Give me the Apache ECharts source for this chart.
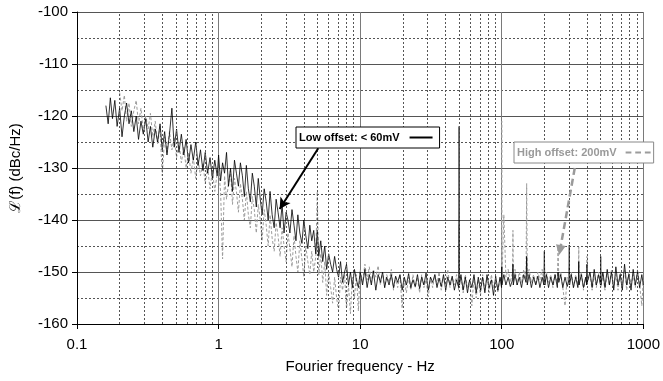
<!DOCTYPE html>
<html>
<head>
<meta charset="utf-8">
<script src="https://cdn.jsdelivr.net/npm/echarts@6/dist/echarts.min.js"></script>
<style>
html,body{margin:0;padding:0;background:#fff;}
#chart{width:663px;height:381px;}
</style>
</head>
<body>
<div id="chart"></div>
<script>
// Fourier frequency (Hz) sample points
var freqs = [
0.16,0.166,0.172,0.178,0.185,0.192,0.2,0.208,0.216,0.224,0.233,0.242,
0.252,0.262,0.272,0.283,0.294,0.306,0.318,0.33,0.343,0.357,0.371,0.386,
0.4,0.416,0.432,0.45,0.468,0.486,0.505,0.525,0.546,0.568,0.59,0.614,
0.638,0.663,0.69,0.717,0.745,0.775,0.805,0.837,0.87,0.905,0.94,0.978,
1,1.033,1.067,1.102,1.138,1.175,1.214,1.254,1.295,1.337,1.381,1.426,
1.473,1.521,1.571,1.623,1.676,1.731,1.788,1.847,1.907,1.97,2.03,2.1,
2.17,2.24,2.31,2.39,2.47,2.55,2.63,2.72,2.81,2.9,3,3.09,
3.19,3.3,3.41,3.52,3.63,3.75,3.88,4,4.13,4.27,4.41,4.55,
4.7,4.86,4.98,5.1,5.27,5.44,5.62,5.8,5.99,6.19,6.39,6.6,
6.82,7.04,7.27,7.51,7.76,8.01,8.27,8.54,8.82,9.11,9.41,9.72,
10,10.4,10.8,11.2,11.6,12,12.4,12.9,13.4,13.9,14.4,14.9,
15.4,16,16.6,17.2,17.8,18.4,19.1,19.8,20.5,21.2,22,22.8,
23.6,24.5,25.4,26.3,27.2,28.2,29.2,30.3,31.4,32.5,33.7,34.9,
36.1,37.4,38.8,40.2,41.6,43.1,44.7,46.3,48,49.7,50,50.3,
51.5,53.4,55.3,57.3,59.3,61.5,63.7,66,68.3,70.8,73.3,76,
78.7,81.5,84.5,87.5,90.6,93.9,97.3,99.7,100,100.3,103.5,107,
111,115,119.3,120,120.7,124,128.5,133,138,143,148.5,150,
151.5,156,162,168,174,180,186,193,198.5,200,201.5,207,
214,222,230,238,247,250,253,261,270,280,290,298.5,
300,301.5,310,321,333,345,348.5,350,351.5,365,378,392,
398.5,400,401.5,420,435,450,466,483,498.5,500,501.5,518,
536,556,576,596,618,640,663,687,711,737,763,790,
819,848,878,910,942,976,1000
];

// Low offset: < 60mV  (dBc/Hz)
var lowOffset = [
-118,-121.5,-116.5,-120.5,-117,-122,-118.5,-124,-120,-117.5,-121.5,-119,
-123,-120,-124.5,-121,-123.5,-120.5,-125,-122,-126,-122.5,-125,-121.5,
-126.5,-123,-127.5,-123.5,-118.5,-126,-122.5,-127,-123.5,-127.5,-124.5,-129,
-125.5,-128.5,-125,-129.5,-126.5,-130.5,-127,-131,-128,-132,-128.5,-131.5,
-127.5,-132.5,-129,-131,-127,-133.5,-130,-134.5,-128.5,-131,-133.5,-129,
-131.5,-135.5,-129.5,-134,-136.5,-131,-133.5,-137.5,-132,-136,-139,-134,
-136.5,-140,-134.5,-139,-141.5,-136,-138.5,-141.5,-137,-142.5,-138.5,-140,
-142.5,-138,-141,-144,-139,-142.5,-144.5,-140,-143,-145.5,-141,-144,
-142,-146.5,-142,-147,-144,-148,-145,-149.5,-146.5,-148.5,-150,-147,
-149.5,-151,-148,-152,-150,-148.5,-152.5,-150,-153,-149.5,-151.5,-153,
-150,-152.5,-149.5,-153,-150.5,-152.5,-149.8,-153.5,-150.5,-152,-150,-153,
-151,-152.5,-150.5,-153,-150.8,-152,-150.5,-153.5,-151,-152.5,-150.3,-153,
-151.5,-152.8,-150.5,-153.2,-151,-152.5,-150.2,-153.5,-151,-152,-150.5,-153,
-151.2,-152.8,-150.5,-153.5,-151,-152.5,-150.8,-153.5,-151.5,-153,-122,-152.5,
-150.5,-153.5,-151,-154,-151.5,-153,-150.5,-154,-151,-153.5,-151,-154,
-150.5,-153,-151.5,-154.5,-150.8,-153.5,-151,-153,-149,-152.5,-150.5,-152.5,
-151,-152.8,-151.5,-148.5,-152.5,-150.5,-152.5,-151,-153,-150.5,-152,-147,
-152.5,-150.5,-153,-151,-152.5,-150.8,-153,-151,-152.5,-146,-152.5,-150.5,
-153,-151,-152.5,-150.5,-153,-150,-152,-150.5,-153,-151,-152.8,-151.5,
-144.8,-152.5,-150.5,-153,-151,-153,-151.5,-148,-152.5,-150.5,-153,-151,
-152.5,-148.5,-152,-150,-153,-149.5,-152.5,-150.5,-152.5,-147,-152.5,-150,
-153,-149.5,-152.5,-150,-153.5,-149,-152.5,-150.5,-153.5,-148.5,-152.5,-150.5,
-153.5,-149.5,-152.5,-150,-153,-150.5,-152.5
];

// High offset: 200mV  (dBc/Hz)
var highOffset = [
null,null,null,null,null,null,-115.5,-119,-116,-121,-117.5,-122,
-119,-117,-121.5,-118.5,-123,-120,-122.5,-119.5,-124,-121,-125.5,-122,
-131.5,-124,-127,-123,-126.5,-124,-128,-125,-129,-126,-130,-127,
-131,-128,-132,-128.5,-131.5,-129,-133,-130,-134,-130.5,-134.5,-131,
-130,-134.5,-147.5,-131.5,-136,-133,-130.5,-137,-132,-134.5,-138.5,-133,
-136,-140,-134.5,-139,-141.5,-135.5,-138,-142.5,-137,-140,-144,-138,
-141,-145,-139,-143.5,-146,-140.5,-143,-147,-141.5,-145,-148,-142.5,
-145.5,-149,-143,-147,-150,-144,-147.5,-151,-145,-148,-150.5,-146,
-150,-147,-134.5,-150.5,-146.5,-152,-148,-154.5,-150,-153,-156,-151,
-155,-157.5,-151,-153.5,-150.5,-157,-152.5,-158,-151,-155,-150.5,-157.5,
-149.5,-152,-148.5,-151.5,-149,-152,-149.5,-151,-148.8,-152.5,-150,-153,
-150.5,-152,-149.5,-153.5,-151,-153,-150.5,-157,-151.5,-154,-151,-153.5,
-150.5,-153,-151,-154,-150.5,-153,-151.5,-154.8,-151,-153,-150.5,-152.5,
-150,-153.5,-151,-152.5,-149.5,-153,-151,-152.5,-150.5,-153.5,-141,-152,
-151,-154,-150.5,-153,-151.5,-156.5,-151,-155,-151.5,-154.5,-150.5,-153.5,
-151,-154,-150.5,-153,-151.5,-154,-151,-152.5,-121,-151.5,-139,-151,
-149.5,-152,-150,-142,-151.5,-149.5,-152.5,-150,-152,-149.5,-151.5,-133,
-151,-149.5,-152,-150.5,-152.5,-150,-151.5,-149.5,-152,-150.5,-152.5,-150,
-152,-150.5,-153,-150.5,-152,-145.2,-151.5,-150,-153,-156.5,-151,-152.5,
-149,-152,-150,-153,-150.5,-152.5,-151,-145.2,-152.5,-150,-153.5,-151,
-152.5,-147,-152,-150.5,-153.5,-150.5,-153,-150,-152.5,-149.5,-153,-150.5,
-153.5,-150,-152.5,-149.5,-153,-150.5,-153.5,-150,-152.5,-149.5,-153.5,-150,
-152.5,-150.5,-153,-149.5,-152.5,-156.5,-151.5
];

// minor (dashed) vertical grid at 2..9 x each decade
var minorFreqGrid = [0.2,0.3,0.4,0.5,0.6,0.7,0.8,0.9,2,3,4,5,6,7,8,9,20,30,40,50,60,70,80,90,200,300,400,500,600,700,800,900];

var seriesNames = ['Low offset: < 60mV', 'High offset: 200mV'];
// annotation arrows in data coordinates [Hz, dBc/Hz]
var lowArrow = [[5.06, -126.2], [2.70, -137.9]];
var highArrow = [[328, -130], [258, -145.8]];

function pairs(vals) {
  var out = [];
  for (var i = 0; i < freqs.length; i++) {
    if (vals[i] !== null) out.push([freqs[i], vals[i]]);
  }
  return out;
}

var FONT = '"Liberation Sans", Arial, sans-serif';
var chart = echarts.init(document.getElementById('chart'), null, {renderer: 'canvas'});
chart.setOption({
  animation: false,
  backgroundColor: '#fff',
  grid: {left: 72, right: 17, top: 12, bottom: 57, containLabel: false},
  legend: [
    {
      data: [{name: seriesNames[0], icon: 'rect'}],
      left: 296, top: 127, z: 20,
      orient: 'horizontal', align: 'right',
      padding: [5, 7, 5, 3],
      itemWidth: 23, itemHeight: 2, itemGap: 5,
      backgroundColor: '#fff', borderColor: '#000', borderWidth: 1, borderRadius: 0,
      selectedMode: false,
      itemStyle: {color: '#000'},
      textStyle: {fontFamily: FONT, fontSize: 11, fontWeight: 'bold', color: '#000', padding: [0, 5, 0, 0]}
    },
    {
      data: [{name: seriesNames[1], icon: 'path://M0,0h6v2h-6zM10,0h6v2h-6zM20,0h6v2h-6z'}],
      left: 514, top: 142, z: 20,
      orient: 'horizontal', align: 'right',
      padding: [5, 3, 5, 3],
      itemWidth: 25, itemHeight: 2, itemGap: 5,
      backgroundColor: '#fff', borderColor: '#888', borderWidth: 1, borderRadius: 0,
      selectedMode: false,
      itemStyle: {color: '#9c9c9c'},
      textStyle: {fontFamily: FONT, fontSize: 11, fontWeight: 'bold', color: '#999', padding: [0, 4, 0, 0]}
    }
  ],
  xAxis: {
    type: 'log', logBase: 10, min: 0.1, max: 1000,
    name: 'Fourier frequency - Hz', nameLocation: 'middle', nameGap: 35,
    nameTextStyle: {fontFamily: FONT, fontSize: 15, color: '#000'},
    axisLine: {show: true, onZero: false, lineStyle: {color: '#000', width: 1}},
    axisTick: {show: true, length: 5, lineStyle: {color: '#000'}},
    axisLabel: {fontFamily: FONT, fontSize: 15, color: '#000', margin: 13,
      formatter: function (v) { return String(+v.toPrecision(3)); }},
    splitLine: {show: true, lineStyle: {color: '#7a7a7a', width: 1, type: 'solid'}},
    minorTick: {show: false},
    minorSplitLine: {show: false}
  },
  yAxis: {
    type: 'value', min: -160, max: -100, interval: 10,
    name: 'ℒ(f) (dBc/Hz)', nameLocation: 'middle', nameGap: 54, nameRotate: 90,
    nameTextStyle: {fontFamily: FONT, fontSize: 15, color: '#000'},
    axisLine: {show: true, onZero: false, lineStyle: {color: '#000', width: 1}},
    axisTick: {show: true, length: 5, lineStyle: {color: '#000'}},
    axisLabel: {fontFamily: FONT, fontSize: 15, color: '#000', margin: 9},
    splitLine: {show: true, lineStyle: {color: '#555', width: 1}},
    minorTick: {show: false, splitNumber: 2},
    minorSplitLine: {show: true, lineStyle: {color: '#555', width: 1, type: [2, 2]}}
  },
  series: [
    {
      name: 'grid', type: 'line', data: [], silent: true, z: 1,
      markLine: {
        silent: true, symbol: ['none', 'none'], label: {show: false},
        lineStyle: {color: '#555', width: 1, type: [2, 2]},
        data: minorFreqGrid.map(function (f) { return {xAxis: f}; })
      }
    },
    {
      name: seriesNames[1], type: 'line', z: 2,
      data: pairs(highOffset),
      symbol: 'none', showSymbol: false,
      lineStyle: {color: '#9c9c9c', width: 1, type: [3, 2]},
      itemStyle: {color: '#9c9c9c'},
      markLine: {
        silent: true, symbol: ['none', 'triangle'], symbolSize: [10, 10],
        label: {show: false},
        lineStyle: {color: '#9a9a9a', width: 2.5, type: [7, 4]},
        itemStyle: {color: '#9a9a9a'},
        data: [[{coord: highArrow[0]}, {coord: highArrow[1]}]]
      }
    },
    {
      name: seriesNames[0], type: 'line', z: 3,
      data: pairs(lowOffset),
      symbol: 'none', showSymbol: false,
      lineStyle: {color: '#000', width: 0.8, type: 'solid'},
      itemStyle: {color: '#000'},
      markLine: {
        silent: true, symbol: ['none', 'arrow'], symbolSize: [9, 11],
        label: {show: false},
        lineStyle: {color: '#000', width: 2, type: 'solid'},
        data: [[{coord: lowArrow[0]}, {coord: lowArrow[1]}]]
      }
    }
  ]
});
</script>
</body>
</html>
